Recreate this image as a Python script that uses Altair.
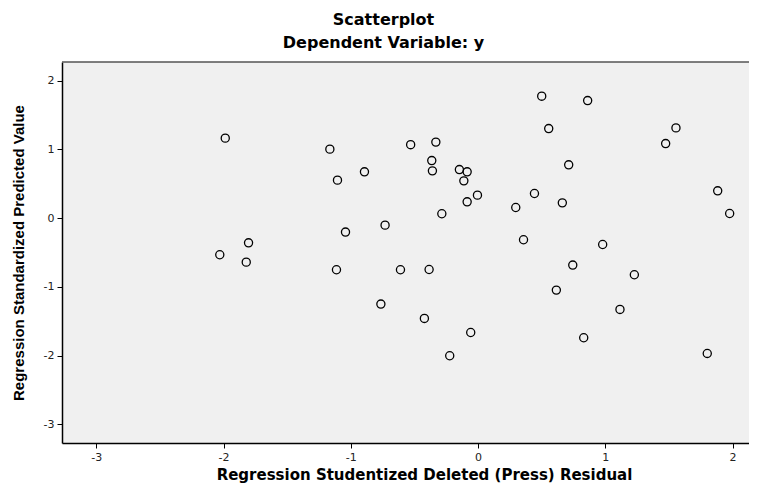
import altair as alt
import pandas as pd

# Regression Studentized Deleted (Press) Residual
resid = [-1.987, -1.165, -0.893, -1.105, -0.530, -0.731, -1.042, -1.804, -2.030, -1.822,
         -1.113, -0.610, -0.764, 0.500, 0.861, 0.555, 1.555, 1.474, -0.332, -0.364,
         -0.359, -0.147, -0.086, -0.112, 0.712, -0.005, -0.086, -0.285, 0.443, 0.296,
         0.662, 1.883, 1.977, 0.357, 0.979, -0.385, 0.744, 1.228, 0.615, 1.115,
         -0.422, -0.058, -0.223, 0.830, 1.801]
# Regression Standardized Predicted Value
pred = [1.163, 1.003, 0.673, 0.552, 1.068, -0.102, -0.203, -0.359, -0.533, -0.640,
        -0.751, -0.751, -1.250, 1.773, 1.709, 1.302, 1.312, 1.084, 1.105, 0.837,
        0.687, 0.706, 0.673, 0.542, 0.775, 0.334, 0.237, 0.063, 0.358, 0.154,
        0.222, 0.397, 0.067, -0.315, -0.384, -0.747, -0.683, -0.824, -1.047, -1.328,
        -1.459, -1.663, -2.001, -1.740, -1.968]
tick_values = [-3, -2, -1, 0, 1, 2]

df = pd.DataFrame({"resid": resid, "pred": pred})

W, H = 687, 381
label_expr = "datum.value < 0 ? '-' + abs(datum.value) : '' + datum.value"

points = alt.Chart(df).mark_point(
    shape="circle", filled=False, color="black", size=66, strokeWidth=1.3, opacity=1
).encode(
    x=alt.X("resid:Q",
            scale=alt.Scale(domain=[-3.27, 2.129], nice=False, zero=False),
            axis=alt.Axis(title="Regression Studentized Deleted (Press) Residual",
                          values=tick_values, labelExpr=label_expr,
                          titleX=362, titleY=36, titleBaseline="alphabetic")),
    y=alt.Y("pred:Q",
            scale=alt.Scale(domain=[-3.27, 2.27], nice=False, zero=False),
            axis=alt.Axis(title="Regression Standardized Predicted Value",
                          values=tick_values, labelExpr=label_expr,
                          titleFont="Liberation Sans", titleFontSize=15,
                          titlePadding=17)),
)

top_border = alt.Chart(pd.DataFrame({"k": [0]})).mark_rule(
    color="#555555", strokeWidth=1.5
).encode(x=alt.value(0), x2=alt.value(W), y=alt.value(0))

chart = alt.layer(points, top_border).properties(
    width=W,
    height=H,
    autosize=alt.AutoSizeParams(type="none"),
    padding={"left": 54, "top": 54, "right": 0, "bottom": 40},
    title=alt.Title(
        "Scatterplot",
        subtitle="Dependent Variable: y",
        font="DejaVu Sans", fontSize=16, fontWeight="bold", color="black",
        subtitleFont="DejaVu Sans", subtitleFontSize=16, subtitleFontWeight="bold",
        subtitleColor="black", subtitlePadding=7,
        anchor="middle", dx=-22, offset=10,
    ),
).configure_view(
    fill="#F0F0F0", strokeWidth=0
).configure_axis(
    grid=False,
    domainColor="black", domainWidth=1.5,
    tickColor="black", tickSize=5, tickWidth=1,
    labelFont="DejaVu Sans", labelFontSize=11, labelColor="#222222", labelPadding=3,
    titleFont="DejaVu Sans", titleFontSize=15, titleFontWeight="bold", titleColor="black",
)

chart.save("out.html", embed_options={"renderer": "svg", "actions": False})
